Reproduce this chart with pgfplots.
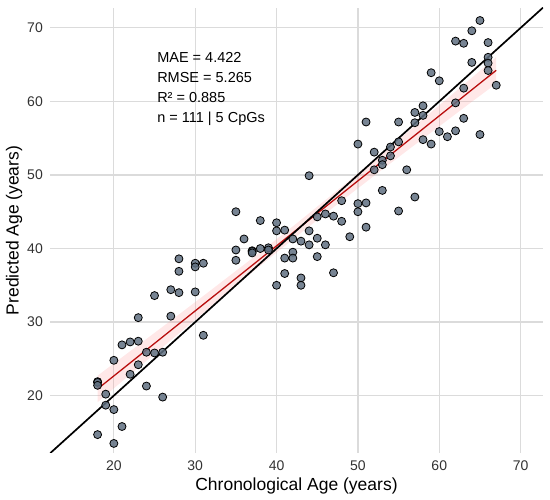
\documentclass[border=0pt]{standalone}
\usepackage{fontspec}
\setmainfont{Liberation Sans}
\usepackage{pgfplots}
\usepackage{pgfplotstable}
\pgfplotsset{compat=1.18}
\definecolor{ptfill}{RGB}{95,111,128}
\definecolor{gridc}{RGB}{219,219,219}
\definecolor{regred}{RGB}{185,15,15}
\definecolor{bandc}{RGB}{255,150,150}
\definecolor{ticklab}{RGB}{50,50,50}
\pgfplotstableread{
x y
18 21.9
18 21.8
18 21.4
18 14.7
19 20.2
19 18.7
20 24.8
20 18.1
20 13.5
21 26.9
21 15.8
22 27.3
22 22.9
23 30.6
23 27.4
23 24.2
24 25.9
24 21.3
25 33.6
25 25.8
26 25.9
26 19.8
27 34.4
27 30.8
28 38.6
28 36.9
28 34.0
30 38.0
30 37.5
30 34.1
31 38.0
31 28.2
35 45.0
35 39.8
35 38.4
36 41.3
37 39.7
37 39.6
37 39.4
38 43.8
38 40.0
39 40.1
39 39.8
40 43.5
40 42.4
40 35.0
41 42.5
41 38.7
41 36.6
42 41.3
42 39.5
42 38.7
43 41.0
43 36.0
43 35.0
44 49.9
44 42.4
44 40.5
45 44.3
45 41.4
45 38.9
46 44.7
46 40.5
47 44.4
47 36.7
48 46.5
48 43.7
49 41.6
50 54.2
50 46.1
50 45.0
51 57.2
51 46.2
51 42.9
52 53.1
52 50.7
53 52.0
53 51.4
53 47.9
54 53.8
54 52.6
55 57.2
55 54.5
55 45.1
56 50.7
57 58.5
57 57.1
57 47.0
58 59.4
58 58.1
58 54.8
59 63.9
59 54.2
60 62.8
60 55.9
61 55.2
62 68.2
62 59.8
62 56.0
63 67.9
63 61.8
63 57.7
64 69.6
64 65.3
65 71.0
65 55.5
66 68.0
66 66.0
66 65.2
66 64.2
67 62.2
}\pts
\begin{document}
\begin{tikzpicture}[x=1pt,y=1pt]
\path[use as bounding box] (0,0) rectangle (550,500);
\begin{axis}[
  at={(50pt,47pt)}, anchor=south west,
  scale only axis, width=493pt, height=445pt,
  xmin=12.15, xmax=72.75, ymin=12.2, ymax=72.7,
  xtick={20,30,...,70}, ytick={20,30,...,70},
  axis line style={draw=none},
  major tick length=0pt,
  grid=major, major grid style={gridc, line width=1.2pt},
  /pgf/number format/assume math mode=true,
  ticklabel style={font=\fontsize{14}{16}\selectfont, text=ticklab, inner sep=0pt},
  xticklabel shift=8pt, yticklabel shift=7pt,
  xlabel={Chronological Age (years)}, ylabel={Predicted Age (years)},
  label style={font=\fontsize{17.5}{20}\selectfont},
  xlabel style={at={(axis description cs:0.5,-0.0742)}, anchor=center},
  ylabel style={at={(axis description cs:-0.073,0.5)}, anchor=center},
  clip=true,
]
\addplot[only marks, mark=*, mark size=4pt,
  mark options={fill=ptfill, fill opacity=0.85, draw=black, line width=0.8pt}]
  table[x=x, y=y] {\pts};
\addplot[draw=none, fill=bandc, fill opacity=0.22] coordinates {
(18,22.71)(21.5,25.62)(25,28.53)(28.5,31.45)(32,34.40)(37,38.66)(42.5,43.45)
(48,48.38)(53,52.96)(56.5,56.21)(60,59.47)(63.5,62.74)(67,66.03)
(67,62.43)(63.5,59.53)(60,56.61)(56.5,53.69)(53,50.74)(48,46.48)(42.5,41.69)
(37,36.76)(32,32.18)(28.5,28.93)(25,25.67)(21.5,22.40)(18,19.11)} -- cycle;
\addplot[regred, line width=1.3pt] coordinates {(18,20.91)(67,64.23)};
\addplot[black, line width=1.7pt] coordinates {(12.15,12.15)(72.75,72.75)};
\node[anchor=base west, font=\fontsize{14.5}{17}\selectfont] at (axis cs:24.9,65.24) {MAE = 4.422};
\node[anchor=base west, font=\fontsize{14.5}{17}\selectfont] at (axis cs:24.9,62.52) {RMSE = 5.265};
\node[anchor=base west, font=\fontsize{14.5}{17}\selectfont] at (axis cs:24.9,59.80) {R² = 0.885};
\node[anchor=base west, font=\fontsize{14.5}{17}\selectfont] at (axis cs:24.9,57.08) {n = 111 | 5 CpGs};
\end{axis}
\end{tikzpicture}
\end{document}
